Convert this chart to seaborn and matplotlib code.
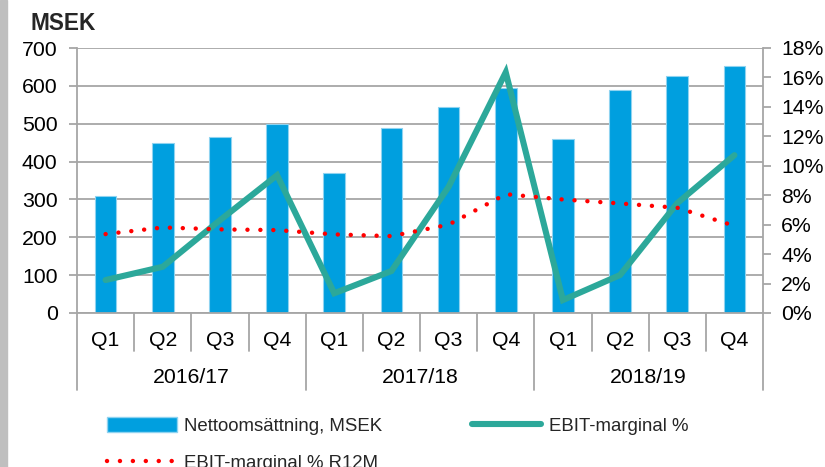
import matplotlib
matplotlib.use("Agg")
import matplotlib.pyplot as plt
import seaborn as sns
import pandas as pd
import numpy as np
from matplotlib.patches import Rectangle, Patch
from matplotlib.lines import Line2D
from matplotlib.ticker import FuncFormatter

quarters = ["Q1", "Q2", "Q3", "Q4"] * 3
years = ["2016/17", "2017/18", "2018/19"]
net_sales = [310, 448, 465, 498, 370, 488, 545, 595, 460, 588, 625, 652]
ebit_margin = [2.24, 3.14, 6.3, 9.36, 1.34, 2.85, 8.57, 16.35, 0.88, 2.58, 7.46, 10.72]
ebit_r12m = [5.36, 5.81, 5.68, 5.63, 5.34, 5.22, 6.0, 8.07, 7.71, 7.44, 7.15, 5.92]

sns.set_theme(style="white")
plt.rcParams["font.family"] = ["Liberation Sans", "DejaVu Sans"]

BAR = "#009fdf"
TEAL = "#2ca89a"
RED = "#ff0000"
GRID = "#a6a6a6"
FS = 15.3
LFS = 13.4
DOT = (0, (0.01, 2.9))

df = pd.DataFrame({
    "idx": np.arange(len(net_sales)),
    "sales": net_sales,
    "ebit": ebit_margin,
    "r12m": ebit_r12m,
})

fig = plt.figure(figsize=(8.25, 4.67), dpi=100)
fig.patches.append(Rectangle((0, 0), 7 / 825, 1, transform=fig.transFigure,
                             color="#bfbfbf", zorder=0))
ax = fig.add_axes([77 / 825, 1 - 313 / 467, (763 - 77) / 825, (313 - 48) / 467])

sns.barplot(data=df, x="idx", y="sales", color=BAR, width=0.38, ax=ax,
            edgecolor="#8fd3f0", linewidth=0.8, saturation=1, zorder=2)
ax.set_xlim(-0.5, len(net_sales) - 0.5)
ax.set_ylim(0, 700)
ax.set_yticks(range(0, 701, 100))
ax.yaxis.grid(True, color=GRID, linewidth=1.3, zorder=0)
ax.set_axisbelow(True)
ax.set_xlabel("")
ax.set_ylabel("")
for s in ["top", "right"]:
    ax.spines[s].set_visible(False)
for s in ["left", "bottom"]:
    ax.spines[s].set_color(GRID)
    ax.spines[s].set_linewidth(1.3)
ax.tick_params(axis="y", left=True, length=6, width=1.3, color=GRID,
               labelsize=FS, pad=8, labelcolor="black")
ax.set_xticks(range(len(quarters)))
ax.set_xticklabels(quarters)
ax.tick_params(axis="x", length=0, labelsize=FS, pad=13, labelcolor="black")

# category separators
trans = ax.get_xaxis_transform()
n = len(quarters)
for k in range(n + 1):
    xpos = k - 0.5
    bottom = -0.29 if k % 4 == 0 else -0.145
    ax.plot([xpos, xpos], [0, bottom], transform=trans, color=GRID,
            linewidth=1.3, clip_on=False)
for g, yl in enumerate(years):
    ax.text(g * 4 + 1.5, -0.245, yl, transform=trans, ha="center", va="center",
            fontsize=FS, color="black")

ax2 = ax.twinx()
sns.lineplot(data=df, x="idx", y="ebit", color=TEAL, linewidth=4.4, ax=ax2,
             solid_joinstyle="miter", zorder=4)
sns.lineplot(data=df, x="idx", y="r12m", color=RED, linewidth=3.2, ax=ax2,
             linestyle=DOT, dash_capstyle="round", zorder=5)
ax2.set_ylim(0, 18)
ax2.set_yticks(range(0, 19, 2))
ax2.yaxis.set_major_formatter(FuncFormatter(lambda v, p: f"{v:.0f}%"))
ax2.set_ylabel("")
ax2.set_xlabel("")
for s in ["top", "left", "bottom"]:
    ax2.spines[s].set_visible(False)
ax2.spines["right"].set_color(GRID)
ax2.spines["right"].set_linewidth(1.3)
ax2.tick_params(axis="y", right=True, length=6, width=1.3, color=GRID,
                labelsize=FS, pad=7, labelcolor="black")
ax2.grid(False)

fig.text(30 / 825, 1 - 23 / 467, "MSEK", fontsize=16.3, fontweight="bold",
         ha="left", va="center")

handles = [
    Patch(facecolor=BAR, edgecolor="#8fd3f0"),
    Line2D([], [], color=RED, linewidth=3.2, linestyle=DOT,
           dash_capstyle="round"),
    Line2D([], [], color=TEAL, linewidth=4.4, solid_capstyle="round"),
]
labels = ["Nettoomsättning, MSEK", "EBIT-marginal % R12M", "EBIT-marginal %"]
fig.legend(handles, labels, ncol=2, loc="upper left",
           bbox_to_anchor=(107 / 825, 1 - 417 / 467), frameon=False,
           fontsize=LFS, handlelength=3.75, handleheight=0.9,
           handletextpad=0.4, columnspacing=4.8, labelspacing=1.0,
           borderpad=0, borderaxespad=0)

fig.savefig("out.png", dpi=100)
